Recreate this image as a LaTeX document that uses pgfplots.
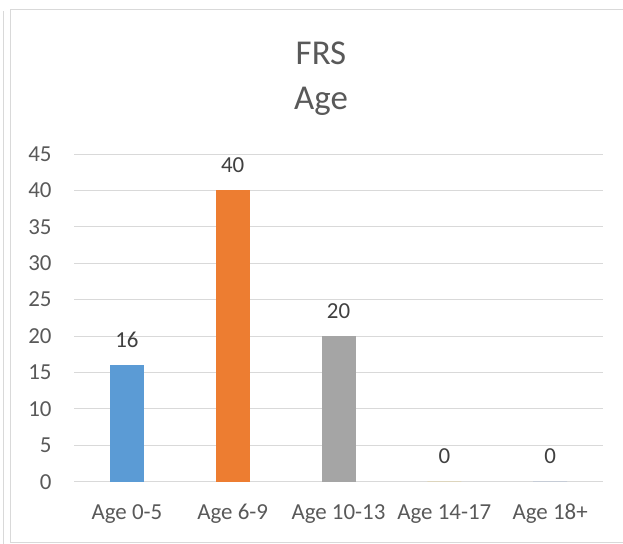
\documentclass[border=0pt]{standalone}
\usepackage{pgfplots}
\pgfplotsset{compat=1.18}
\usepackage{fontspec}
\setmainfont{Carlito}

\definecolor{xlblue}{HTML}{5B9BD5}
\definecolor{xlorange}{HTML}{ED7D31}
\definecolor{xlgray}{HTML}{A5A5A5}
\definecolor{xlgold}{HTML}{FFC000}
\definecolor{xlnavy}{HTML}{4472C4}
\definecolor{gridc}{HTML}{D9D9D9}
\definecolor{tickc}{HTML}{595959}
\definecolor{labc}{HTML}{404040}

\begin{document}
\begin{tikzpicture}[x=1bp,y=1bp]
\useasboundingbox (0,0) rectangle (623,544);
% chart frame
\draw[gridc, line width=0.9bp] (3,0) -- (3,533);
\draw[gridc, line width=0.9bp] (623,534.5) -- (10.5,534.5) -- (10.5,2) -- (623,2);
% title
\node[anchor=base, font=\fontsize{35}{40}\selectfont, text=tickc, inner sep=0] at (321,479) {FRS};
\node[anchor=base, font=\fontsize{35}{40}\selectfont, text=tickc, inner sep=0] at (321,434) {Age};

\begin{axis}[
  at={(74bp,62.3bp)}, anchor=south west,
  scale only axis, width=529bp, height=327.7bp,
  ymin=0, ymax=45, ytick={0,5,...,45},
  xmin=-0.5, xmax=4.5, xtick={0,1,2,3,4},
  xticklabels={Age 0-5, Age 6-9, Age 10-13, Age 14-17, Age 18+},
  axis line style={draw=none},
  major tick length=0pt,
  ymajorgrids, grid style={gridc, line width=0.9bp},
  /pgf/number format/assume math mode=true,
  tick label style={font=\fontsize{23}{27}\selectfont, text=tickc},
  yticklabel style={anchor=east, inner sep=0pt, xshift=-22.3bp},
  xticklabel style={anchor=base, inner sep=0pt, yshift=-37.6bp},
  ybar, bar width=34bp, bar shift=0pt,
  nodes near coords,
  nodes near coords style={font=\fontsize{23}{27}\selectfont, text=labc, anchor=base, inner sep=0pt, yshift=18bp},
]
\addplot[fill=xlblue, draw=none] coordinates {(0,16)};
\addplot[fill=xlorange, draw=none] coordinates {(1,40)};
\addplot[fill=xlgray, draw=none] coordinates {(2,20)};
\addplot[fill=xlgold, draw=none] coordinates {(3,0)};
\addplot[fill=xlnavy, draw=none] coordinates {(4,0)};
\end{axis}
\end{tikzpicture}
\end{document}
